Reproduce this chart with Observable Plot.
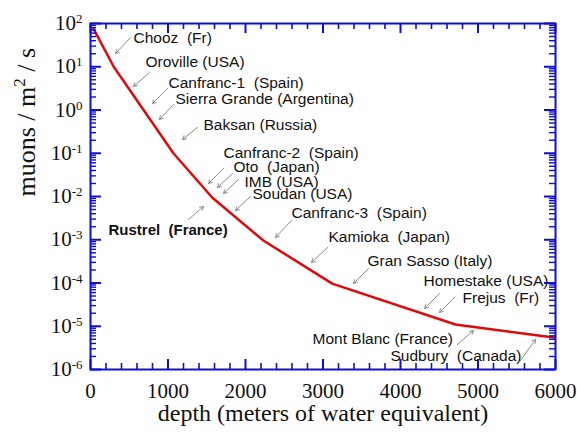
<!DOCTYPE html>
<html><head><meta charset="utf-8">
<script src="https://cdn.jsdelivr.net/npm/d3@7"></script>
<script src="https://cdn.jsdelivr.net/npm/@observablehq/plot@0.6"></script>
<style>body{margin:0;background:#fff} #chart svg{display:block}</style>
</head><body><div id="chart"></div>
<script>
// Muon flux vs depth (curve vertices)
const depth = [40, 300, 1070, 1570, 2230, 3120, 4710, 5980];
const flux  = [75, 10, 0.1, 0.0095, 0.00096, 9.7e-5, 1.1e-5, 5.5e-6];

// Site annotations
const siteNames = [
  "Chooz\u00a0 (Fr)", "Oroville (USA)", "Canfranc-1\u00a0 (Spain)", "Sierra Grande (Argentina)",
  "Baksan (Russia)", "Canfranc-2\u00a0 (Spain)", "Oto\u00a0 (Japan)", "IMB (USA)", "Soudan (USA)",
  "Canfranc-3\u00a0 (Spain)", "Kamioka\u00a0 (Japan)", "Gran Sasso (Italy)", "Homestake (USA)",
  "Frejus\u00a0 (Fr)", "Mont Blanc (France)", "Sudbury\u00a0 (Canada)"
];
const labelX = [555, 710, 1006, 1097, 1458, 1716, 1845, 1987, 2090, 2594, 3071, 3574, 4297, 4800, 2865, 3871];
const labelY = [45, 13.2, 4.3, 1.75, 0.44, 0.099, 0.047, 0.022, 0.0117, 0.00405, 0.00113, 3.3e-4, 1.14e-4, 4.4e-5, 5.2e-6, 2.1e-6];
const arrowX1 = [516, 761, 994, 1071, 1381, 1716, 1832, 1910, 2064, 2594, 3058, 3587, 4503, 4697, 4735, 5548];
const arrowY1 = [47.4, 7.36, 3.14, 1.34, 0.394, 0.0444, 0.034, 0.0247, 0.01, 0.00279, 6.62e-4, 2.16e-4, 5.71e-5, 4.62e-5, 3.78e-6, 1.61e-6];
const arrowX2 = [323, 555, 800, 890, 1187, 1523, 1639, 1716, 1871, 2387, 2852, 3394, 4310, 4503, 4942, 5742];
const arrowY2 = [20.2, 3.49, 1.41, 0.603, 0.208, 0.02, 0.01614, 0.01173, 0.00474, 0.00113, 2.98e-4, 9.73e-5, 2.57e-5, 2.08e-5, 7.98e-6, 4.94e-6];

// Highlighted site
const highlightName = ["Rustrel\u00a0 (France)"];
const highlightLabelX = [232];
const highlightLabelY = [0.00164];
const highlightArrowX1 = [1265], highlightArrowY1 = [0.00294];
const highlightArrowX2 = [1458], highlightArrowY2 = [0.00587];

// Axes
const xTicks = [0, 1000, 2000, 3000, 4000, 5000, 6000];
const xMinor = d3.range(200, 6000, 200).filter(d => d % 1000 !== 0);
const yExponents = [-6, -5, -4, -3, -2, -1, 0, 1, 2];
const yMajor = yExponents.map(e => 10 ** e);
const yMinor = yExponents.slice(0, -1).flatMap(e => [2,3,4,5,6,7,8,9].map(k => k * 10 ** e));

const W = 577, H = 436, mL = 90, mR = 22, mT = 23, mB = 67;
const FW = W - mL - mR, FH = H - mT - mB;
const blue = "#0f0fd2", red = "#dc0a0a";
const serif = "Liberation Serif, Times New Roman, serif";
const sans = "Liberation Sans, Arial, sans-serif";

const chart = Plot.plot({
  width: W, height: H,
  marginLeft: mL, marginRight: mR, marginTop: mT, marginBottom: mB,
  style: {fontFamily: sans, background: "white"},
  x: {domain: [0, 6000], axis: null},
  y: {type: "log", domain: [1e-6, 1e2], axis: null},
  marks: [
    Plot.arrow(arrowX1, {x1: (d,i) => arrowX1[i], y1: (d,i) => arrowY1[i], x2: (d,i) => arrowX2[i], y2: (d,i) => arrowY2[i],
      stroke: "#8c8c8c", strokeWidth: 1, headLength: 6}),
    Plot.arrow(highlightArrowX1, {x1: (d,i) => highlightArrowX1[i], y1: (d,i) => highlightArrowY1[i], x2: (d,i) => highlightArrowX2[i], y2: (d,i) => highlightArrowY2[i],
      stroke: "#8c8c8c", strokeWidth: 1, headLength: 6}),
    Plot.text(siteNames, {x: (d,i) => labelX[i], y: (d,i) => labelY[i], text: d => d, textAnchor: "start",
      fontSize: 15.5, fontFamily: sans, fill: "#111"}),
    Plot.text(highlightName, {x: (d,i) => highlightLabelX[i], y: (d,i) => highlightLabelY[i], text: d => d, textAnchor: "start",
      fontSize: 15, fontWeight: "bold", fontFamily: sans, fill: "#111"}),
    Plot.line(depth, {x: d => d, y: (d,i) => flux[i], stroke: red, strokeWidth: 2.5, strokeLinejoin: "round"}),
    // ticks (inward) on all four sides
    Plot.ruleX(xTicks, {x: d => d, stroke: blue, strokeWidth: 2, insetTop: FH - 10}),
    Plot.ruleX(xTicks, {x: d => d, stroke: blue, strokeWidth: 2, insetBottom: FH - 10}),
    Plot.ruleX(xMinor, {x: d => d, stroke: blue, strokeWidth: 1.6, insetTop: FH - 6}),
    Plot.ruleX(xMinor, {x: d => d, stroke: blue, strokeWidth: 1.6, insetBottom: FH - 6}),
    Plot.ruleY(yMajor, {y: d => d, stroke: blue, strokeWidth: 2, insetRight: FW - 11}),
    Plot.ruleY(yMajor, {y: d => d, stroke: blue, strokeWidth: 2, insetLeft: FW - 11}),
    Plot.ruleY(yMinor, {y: d => d, stroke: blue, strokeWidth: 1.4, insetRight: FW - 6}),
    Plot.ruleY(yMinor, {y: d => d, stroke: blue, strokeWidth: 1.4, insetLeft: FW - 6}),
    Plot.frame({stroke: blue, strokeWidth: 2}),
    // tick labels
    Plot.text(xTicks, {x: d => d, frameAnchor: "bottom", dy: 28, text: d => String(d), fontSize: 21, fontFamily: serif, fill: "#111"}),
    Plot.text(yExponents, {y: e => 10 ** e, frameAnchor: "left", dx: -8, textAnchor: "end", text: e => "10^" + e,
      fontSize: 21, fontFamily: serif, fill: "#111"}),
    // axis titles
    Plot.text(["depth (meters of water equivalent)"], {frameAnchor: "bottom", dy: 51, text: d => d, fontSize: 24, fontFamily: serif, fill: "#111"}),
    Plot.text(["muons / m^2 / s"], {frameAnchor: "left", dx: -64, rotate: -90, text: d => d, fontSize: 26, fontFamily: serif, fill: "#111"})
  ]
});

// superscripts
d3.select(chart).selectAll("text").each(function() {
  const txt = this.textContent;
  if (!txt.includes("^")) return;
  const s = d3.select(this);
  if (txt.startsWith("10^")) {
    s.text("10");
    s.append("tspan").attr("dy", -7).attr("font-size", 13).text(txt.slice(3));
  } else {
    const [a, rest] = txt.split("^");
    s.text(a);
    s.append("tspan").attr("dy", -10).attr("font-size", 17).text(rest[0]);
    s.append("tspan").attr("dy", 10).text(rest.slice(1).replace(/^ /, "\u00a0"));
  }
});

document.getElementById("chart").appendChild(chart);
</script>
</body></html>
